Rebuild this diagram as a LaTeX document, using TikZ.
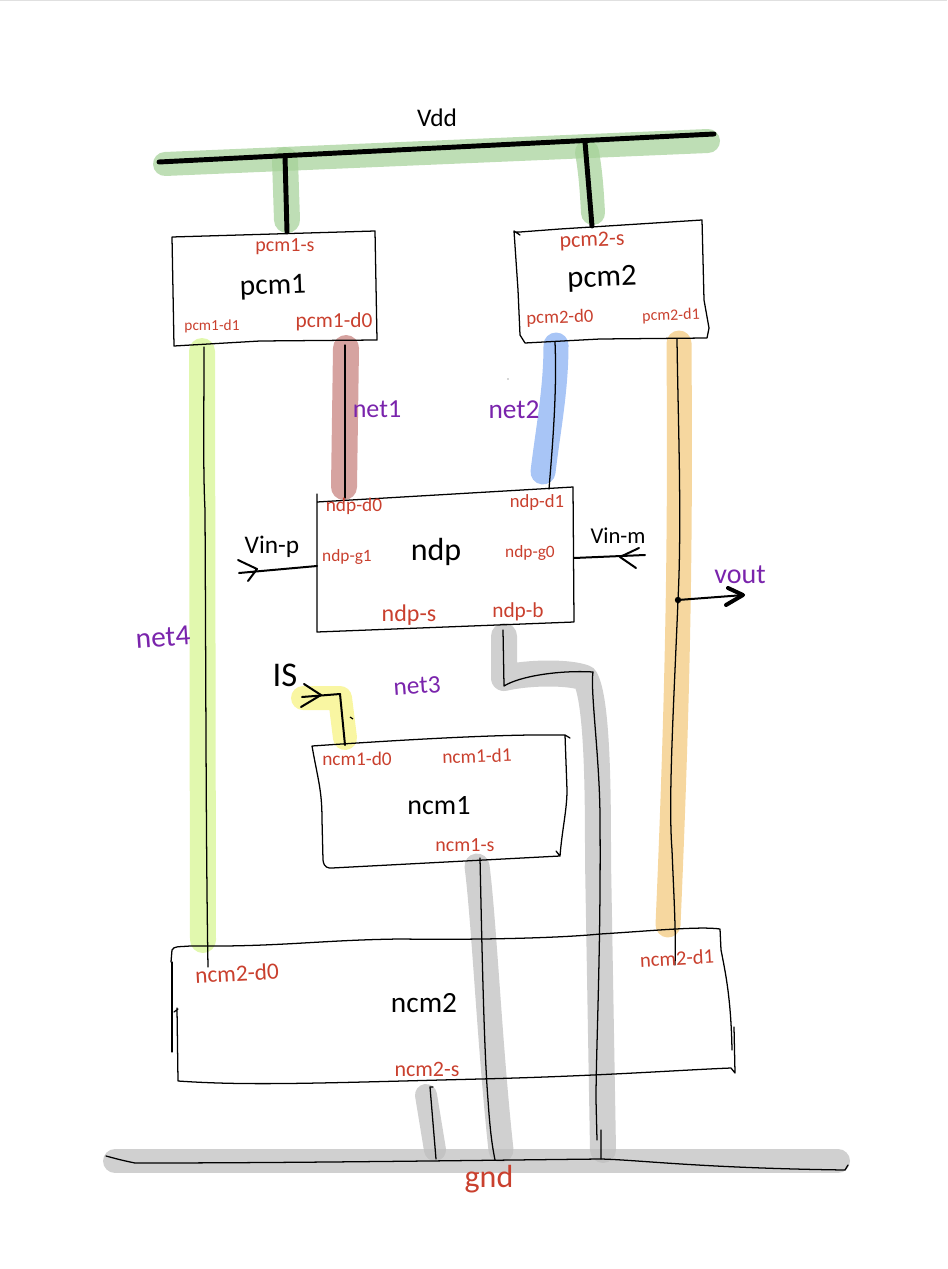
\documentclass[tikz,border=0pt]{standalone}
\usepackage{fontspec}
\setmainfont{Carlito}
\definecolor{portred}{HTML}{C9402E}
\definecolor{netpurple}{HTML}{7A24AC}
\definecolor{hgreen}{HTML}{A5D198}
\definecolor{hlime}{HTML}{D6F58F}
\definecolor{hrose}{HTML}{C67F7C}
\definecolor{hblue}{HTML}{86AEF2}
\definecolor{horange}{HTML}{F2C87A}
\definecolor{hgray}{HTML}{BEBEBE}
\definecolor{hyellow}{HTML}{F6F27E}
\tikzset{
  halo/.style={line width=#1*0.75pt,line cap=round,line join=round,opacity=.72},
  pen/.style={black,line width=0.95pt,line cap=round,line join=round},
  heavy/.style={black,line width=3.7pt,line cap=round},
  mid/.style={black,line width=1.5pt,line cap=round,line join=round},
  port/.style={text=portred,inner sep=0pt},
  netlab/.style={text=netpurple,inner sep=0pt},
  title/.style={text=black,inner sep=0pt},
  fs/.style={font=\fontsize{#1}{#1}\selectfont},
}
\begin{document}
\begin{tikzpicture}[x=0.75pt,y=-0.75pt]
\useasboundingbox (0,0) rectangle (947,1269);
\draw[black!12,line width=0.8pt] (0,0.5) -- (947,0.5);

% named anchors
\coordinate (vddL) at (159,162);
\coordinate (vddR) at (714,134);
\coordinate (vddA) at (285,156);
\coordinate (vddB) at (585,142);
\coordinate (pcmAs) at (287,232);
\coordinate (pcmBs) at (592,226);
\coordinate (pcmAd1) at (204,347);
\coordinate (pcmAd0) at (345,345);
\coordinate (pcmBd0) at (555,342);
\coordinate (pcmBd1) at (677,339);
\coordinate (ndpd0) at (345,498);
\coordinate (ndpd1) at (549,489);
\coordinate (ndpg1) at (317,566);
\coordinate (ndpg0) at (574,558);
\coordinate (ndpb) at (503,630);
\coordinate (vinp) at (239,573);
\coordinate (vinm) at (645,555);
\coordinate (voutdot) at (678,600);
\coordinate (vout) at (744,595);
\coordinate (isin) at (302,697);
\coordinate (ncmAd0) at (345,745);
\coordinate (ncmAs) at (480,858);
\coordinate (ncmBd0) at (208,967);
\coordinate (ncmBd1) at (675,965);
\coordinate (ncmBs) at (430,1087);
\coordinate (gndA) at (436,1159);
\coordinate (gndB) at (495,1160);
\coordinate (gndC) at (601,1159);

% highlight bands
\draw[hgreen,halo=24] (165,164) -- (708,141);
\draw[hgreen,halo=26] (285,160) -- (287,220);
\draw[hgreen,halo=24] (587,152) .. controls (591,175) and (592,195) .. (593,213);
\draw[hlime,halo=26] (202,351) -- (203,940);
\draw[hrose,halo=26] (346,348) -- (344,487);
\draw[hblue,halo=25] (556,345) .. controls (556,390) and (548,430) .. (543,472);
\draw[horange,halo=25] (679,343) .. controls (680,500) and (680,650) .. (668,925);
\draw[hgray,halo=26] (504,636) -- (504,678) .. controls (530,672) and (570,672) .. (585,678) .. controls (598,700) and (598,800) .. (598,860) -- (603,1150);
\draw[hgray,halo=25] (477,866) .. controls (484,920) and (490,1050) .. (501,1150);
\draw[hgray,halo=22] (426,1095) -- (435,1150);
\draw[hgray,halo=24] (115,1161) -- (838,1161);
\draw[hyellow,halo=24] (303,698) -- (340,698) -- (345,738);

% hand-drawn boxes
\draw[pen] (172,237) -- (375,231) -- (377,340) -- (260,341) -- (174,346) -- cycle;
\draw[pen] (516,232) -- (520,232) -- (560,229) -- (702,220) -- (704,300) -- (709,328) -- (707,338) -- (600,339) -- (525,343) -- (520,335) -- (518,290) -- (514,231) -- (520,235);
\draw[pen] (317,494) -- (317,632) -- (574,622) -- (573,487) -- (317,502);
\draw[pen] (312,746) .. controls (318,780) and (322,790) .. (322,820) -- (323,860) .. controls (324,868) and (328,868) .. (332,868) -- (560,856) -- (556,851) (560,856) .. controls (562,830) and (567,810) .. (567,790) -- (565,735) (570,738) -- (565,735) -- (561,735) .. controls (500,734) and (400,740) .. (312,746);
\draw[pen] (171,962) -- (172,950) .. controls (174,946) and (178,947) .. (190,946) .. controls (280,947) and (320,940) .. (400,939) .. controls (480,940) and (560,938) .. (600,934) .. controls (650,931) and (700,926) .. (720,929) -- (721,950) .. controls (726,975) and (731,1000) .. (732,1050);
\draw[pen] (178,1009) -- (174,1012) (177,1008) -- (178,1081) .. controls (250,1086) and (320,1083) .. (480,1079) .. controls (600,1076) and (680,1070) .. (731,1068) -- (735,1073) -- (734,1027);
\draw[pen] (172,962) -- (172,1052);

% wires
\draw[heavy] (vddL) -- (vddR);
\draw[heavy] (vddA) -- (pcmAs);
\draw[heavy] (vddB) -- (pcmBs);
\draw[pen] (pcmAd1) .. controls (204,420) and (203,470) .. (205,510) .. controls (206,700) and (206,850) .. (ncmBd0);
\draw[pen] (pcmAd0) -- (ndpd0);
\draw[pen] (pcmBd0) .. controls (557,390) and (553,440) .. (ndpd1);
\draw[pen] (pcmBd1) .. controls (678,420) and (682,520) .. (voutdot) .. controls (674,700) and (668,800) .. (672,850) .. controls (674,900) and (676,930) .. (ncmBd1);
\draw[pen] (ndpb) -- (504,686) .. controls (520,676) and (560,670) .. (593,672) .. controls (590,690) and (600,760) .. (600,820) .. controls (601,950) and (596,1050) .. (596,1100) -- (597,1140) (601,1130) -- (gndC);
\draw[pen] (ncmAs) .. controls (482,950) and (484,1050) .. (488,1100) .. controls (490,1130) and (492,1145) .. (gndB);
\draw[pen] (433,1087) -- (ncmBs) -- (gndA);
\draw[pen] (106,1156) .. controls (110,1157) and (120,1160) .. (135,1163) .. controls (300,1163) and (500,1160) .. (gndC) .. controls (640,1160) and (700,1168) .. (845,1170) -- (848,1165);
% inputs
\draw[mid] (vinp) -- (ndpg1);
\draw[mid] (238,560) -- (257,569) -- (248,581);
\draw[mid] (ndpg0) -- (vinm);
\draw[mid] (639,548) -- (620,557) -- (636,568);
\draw[mid] (isin) -- (340,694);
\draw[mid] (340,694) -- (ncmAd0);
\draw[mid] (304,684) -- (321,695) -- (301,707);
\draw[black,line width=0.9pt] (350,717) -- (353,719);
% output
\fill (voutdot) circle (3.2);
\draw[mid] (voutdot) -- (vout);
\draw[black,line width=3pt,line cap=round,line join=round] (728,588) -- (743,595) -- (726,605);
\fill[black!70] (508,379) circle (0.7);

% labels
\node[title,fs=19] (tvdd) at (437,118) {Vdd};
\node[title,fs=22,rotate=2] (tpcmA) at (273,287) {pcm1};
\node[title,fs=23,rotate=2] (tpcmB) at (602,279) {pcm2};
\node[title,fs=24] (tndp) at (436,552) {ndp};
\node[title,fs=21] (tncmA) at (439,806) {ncm1};
\node[title,fs=22] (tncmB) at (424,1003) {ncm2};
\node[title,fs=19] (tvinp) at (272,547) {Vin-p};
\node[title,fs=17] (tvinm) at (618,536) {Vin-m};
\node[title,fs=26] (tis) at (285,675) {IS};

\node[port,fs=15] (lpcmAs) at (285,247) {pcm1-s};
\node[port,fs=11.5] (lpcmAdi) at (212,326) {pcm1-d1};
\node[port,fs=16] (lpcmAdo) at (334,322) {pcm1-d0};
\node[port,fs=16.5,rotate=2] (lpcmBs) at (592,241) {pcm2-s};
\node[port,fs=14,rotate=2] (lpcmBdo) at (560,318) {pcm2-d0};
\node[port,fs=12,rotate=2] (lpcmBdi) at (671,316) {pcm2-d1};
\node[port,fs=14.5] (lndpdo) at (354,506) {ndp-d0};
\node[port,fs=14] (lndpdi) at (537,503) {ndp-d1};
\node[port,fs=13] (lndpgi) at (347,557) {ndp-g1};
\node[port,fs=13] (lndpgo) at (530,553) {ndp-g0};
\node[port,fs=18] (lndps) at (409,615) {ndp-s};
\node[port,fs=16] (lndpb) at (518,612) {ndp-b};
\node[port,fs=14.5] (lncmAdo) at (357,759) {ncm1-d0};
\node[port,fs=14.5,rotate=2] (lncmAdi) at (477,756) {ncm1-d1};
\node[port,fs=15] (lncmAs) at (465,845) {ncm1-s};
\node[port,fs=17.5,rotate=3] (lncmBdo) at (237,973) {ncm2-d0};
\node[port,fs=15.5,rotate=3] (lncmBdi) at (677,958) {ncm2-d1};
\node[port,fs=16.5] (lncmBs) at (427,1069) {ncm2-s};
\node[port,fs=24] (lgnd) at (489,1179) {gnd};

\node[netlab,fs=19.5] (lnet1) at (377,409) {net1};
\node[netlab,fs=20.5] (lnet2) at (514,410) {net2};
\node[netlab,fs=19,rotate=4] (lnet3) at (417,686) {net3};
\node[netlab,fs=22,rotate=4] (lnet4) at (163,637) {net4};
\node[netlab,fs=21] (lvout) at (740,575) {vout};
\end{tikzpicture}
\end{document}
